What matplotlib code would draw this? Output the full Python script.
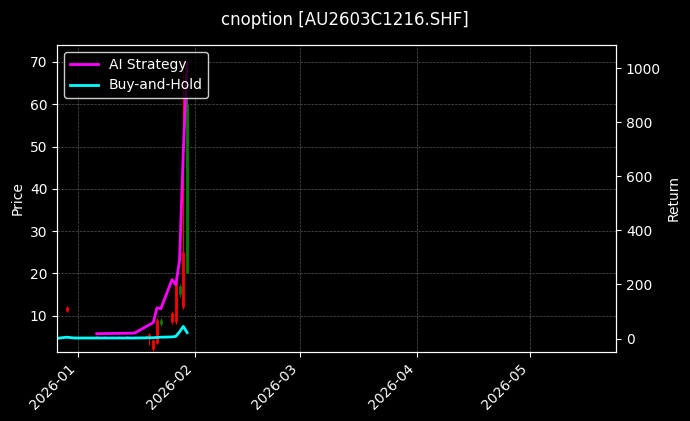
import matplotlib
matplotlib.use("Agg")
import matplotlib.pyplot as plt
import matplotlib.dates as mdates
import pandas as pd

dates = ["2025-12-29","2026-01-06","2026-01-08","2026-01-12","2026-01-14","2026-01-16","2026-01-19",
         "2026-01-20","2026-01-21","2026-01-22","2026-01-23","2026-01-26","2026-01-27","2026-01-28",
         "2026-01-29","2026-01-30"]
opens  = [12.0, 5.2, 5.0, 5.0, 5.1, 5.0, 5.2, 5.6, 4.2, 9.0, 8.0, 10.5, 18.0, 15.0, 25.0, 20.0]
closes = [11.0, 4.9, 4.8, 4.9, 4.9, 4.8, 5.0, 5.0, 2.0, 3.6, 9.0, 8.5, 8.5, 17.0, 12.0, 60.0]
highs  = [12.2, 5.3, 5.1, 5.1, 5.2, 5.1, 5.3, 5.8, 4.5, 9.5, 9.5, 11.0, 18.5, 17.5, 70.0, 62.0]
lows   = [10.8, 4.7, 4.6, 4.7, 4.8, 4.6, 4.8, 3.0, 1.6, 3.3, 7.5, 8.0, 8.0, 14.5, 11.5, 20.0]

ret_dates = ["2025-12-26","2025-12-29","2025-12-31","2026-01-06","2026-01-16","2026-01-21","2026-01-22",
             "2026-01-23","2026-01-26","2026-01-27","2026-01-28","2026-01-29","2026-01-30"]
ai_ret  = [None, None, None, 18, 20, 59, 114, 110, 218, 199, 291, 697, 1018]
bh_ret  = [0, 5, 2, 2, 2, 3, 4, 5, 6, 8, 25, 45, 22]

plt.rcParams['font.family'] = ['DejaVu Sans']
fig = plt.figure(figsize=(6.9, 4.21), dpi=100, facecolor='black')
ax = fig.add_axes([0.083, 0.165, 0.81, 0.728])
ax.set_facecolor('black')
d = pd.to_datetime(dates)
for x, o, c, h, l in zip(d, opens, closes, highs, lows):
    col = 'green' if c >= o else 'red'
    ax.vlines(x, l, h, color=col, linewidth=0.8)
    ax.vlines(x, min(o, c), max(o, c), color=col, linewidth=2)
ax.set_ylim(1.5, 74)
ax.set_xlim(pd.Timestamp("2025-12-26 12:00"), pd.Timestamp("2026-05-24"))
ax.xaxis.set_major_locator(mdates.MonthLocator())
ax.xaxis.set_major_formatter(mdates.DateFormatter('%Y-%m'))
ax.set_ylabel('Price', color='white')
ax.grid(True, color='#555555', linestyle='--', linewidth=0.5)
ax2 = ax.twinx()
rd = pd.to_datetime(ret_dates)
ai_d = [x for x, v in zip(rd, ai_ret) if v is not None]
ai_v = [v for v in ai_ret if v is not None]
ax2.plot(ai_d, ai_v, color='#ff00ff', linewidth=2, label='AI Strategy')
ax2.plot(rd, bh_ret, color='#00ffff', linewidth=2, label='Buy-and-Hold')
ax2.set_ylim(-48, 1085)
ax2.set_ylabel('Return', color='white')
for a in (ax, ax2):
    a.tick_params(colors='white')
    for s in a.spines.values():
        s.set_color('white')
plt.setp(ax.get_xticklabels(), rotation=45, ha='right')
leg = ax2.legend(loc='upper left', facecolor='black', edgecolor='white', labelcolor='white')
fig.suptitle('cnoption [AU2603C1216.SHF]', color='white', y=0.975)
fig.savefig('out.png', facecolor='black')
